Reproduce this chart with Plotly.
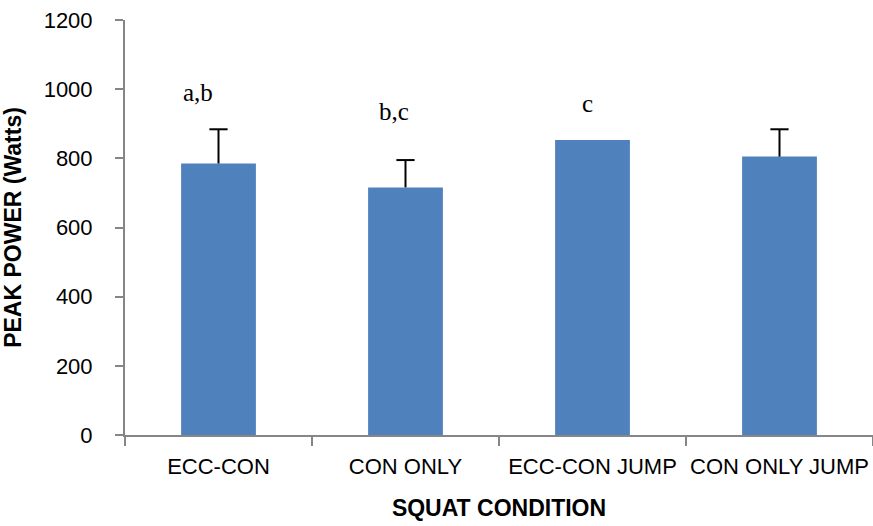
import plotly.graph_objects as go

# Squat conditions and peak power (mean and SD, Watts)
conditions = ["ECC-CON", "CON ONLY", "ECC-CON JUMP", "CON ONLY JUMP"]
peak_power = [785, 716, 853, 805]
peak_power_sd = [99, 79, None, 79]

# Significance letters shown above the bars
sig_letters = ["a,b", "b,c", "c", ""]
sig_letter_y = [990, 935, 958, None]

BAR_COLOR = "#4F81BD"
AXIS_COLOR = "#868686"
SANS = "Liberation Sans, Arial, sans-serif"

fig = go.Figure()

fig.add_trace(go.Bar(
    x=conditions,
    y=peak_power,
    marker=dict(color=BAR_COLOR, line=dict(width=0)),
    width=0.4,
    hoverinfo="x+y",
))

# Upper (plus-only) error bars: stems and caps
stem_x, stem_y, cap_x, cap_y = [], [], [], []
for c, m, s in zip(conditions, peak_power, peak_power_sd):
    if s is None:
        continue
    stem_x += [c, c, None]
    stem_y += [m, m + s, None]
    cap_x.append(c)
    cap_y.append(m + s)

fig.add_trace(go.Scatter(
    x=stem_x, y=stem_y, mode="lines",
    line=dict(color="black", width=2),
    hoverinfo="skip", showlegend=False,
))
fig.add_trace(go.Scatter(
    x=cap_x, y=cap_y, mode="markers",
    marker=dict(symbol="line-ew", size=13, line=dict(color="black", width=2)),
    hoverinfo="skip", showlegend=False,
))

letter_shift = [-21, -12, -5, 0]
for c, txt, ly, dx in zip(conditions, sig_letters, sig_letter_y, letter_shift):
    if not txt:
        continue
    fig.add_annotation(
        x=c, y=ly, text=txt, showarrow=False, xshift=dx,
        font=dict(family="Liberation Serif, Times New Roman, serif", size=25, color="black"),
    )

fig.update_layout(
    width=873, height=526,
    margin=dict(l=125, r=0, t=20, b=91),
    paper_bgcolor="white", plot_bgcolor="white",
    showlegend=False,
    bargap=0.6,
)

fig.update_xaxes(
    type="category", automargin=False,
    showline=True, linecolor=AXIS_COLOR, linewidth=2,
    ticks="outside", tickson="boundaries", ticklen=9, tickwidth=2, tickcolor=AXIS_COLOR,
    tickangle=0,
    tickfont=dict(family=SANS, size=22, color="black"),
    ticklabelstandoff=11,
    showgrid=False, zeroline=False,
    title=dict(text="<b>SQUAT CONDITION</b>", standoff=21,
               font=dict(family=SANS, size=23, color="black")),
)

fig.update_yaxes(
    range=[0, 1200], dtick=200, automargin=False,
    showline=True, linecolor=AXIS_COLOR, linewidth=2,
    ticks="outside", ticklen=8, tickwidth=2, tickcolor=AXIS_COLOR,
    tickfont=dict(family=SANS, size=22, color="black"),
    ticklabelstandoff=18,
    showgrid=False, zeroline=False,
    title=dict(text="<b>PEAK POWER (Watts)</b>", standoff=16,
               font=dict(family=SANS, size=23, color="black")),
)

fig.write_html("out.html")
